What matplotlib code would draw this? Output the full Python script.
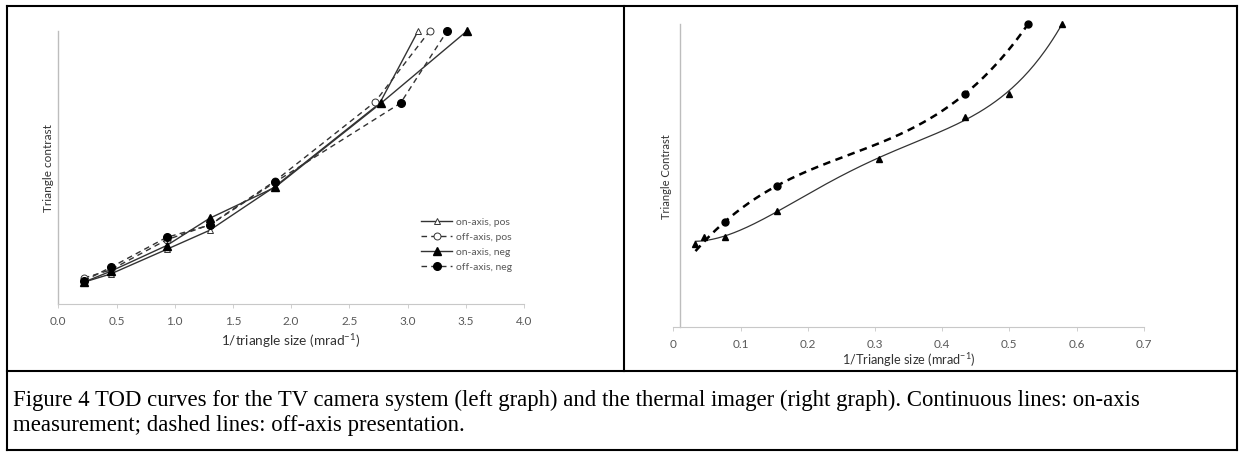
import numpy as np
import matplotlib
matplotlib.use("Agg")
import matplotlib.pyplot as plt
from matplotlib.lines import Line2D

# left graph: TV camera system
left_on_pos_x = [0.22, 0.45, 0.93, 1.30, 1.86, 2.76, 3.09]
left_on_pos_y = [0.08, 0.11, 0.20, 0.27, 0.43, 0.735, 1.00]
left_off_pos_x = [0.22, 0.45, 0.93, 1.30, 1.86, 2.72, 3.19]
left_off_pos_y = [0.095, 0.125, 0.235, 0.29, 0.45, 0.74, 1.00]
left_on_neg_x = [0.22, 0.45, 0.93, 1.30, 1.86, 2.77, 3.51]
left_on_neg_y = [0.08, 0.12, 0.214, 0.314, 0.427, 0.735, 1.00]
left_off_neg_x = [0.22, 0.45, 0.93, 1.30, 1.86, 2.94, 3.34]
left_off_neg_y = [0.085, 0.134, 0.244, 0.289, 0.446, 0.736, 1.00]
left_labels = ["on-axis, pos", "off-axis, pos", "on-axis, neg", "off-axis, neg"]
left_xticks = [0.0, 0.5, 1.0, 1.5, 2.0, 2.5, 3.0, 3.5, 4.0]

# right graph: thermal imager
right_on_x = [0.033, 0.046, 0.077, 0.154, 0.306, 0.434, 0.499, 0.578]
right_on_y = [0.274, 0.298, 0.296, 0.382, 0.554, 0.694, 0.769, 1.00]
right_off_x = [0.077, 0.154, 0.434, 0.528]
right_off_y = [0.348, 0.466, 0.769, 1.00]
right_xticks = [0, 0.1, 0.2, 0.3, 0.4, 0.5, 0.6, 0.7]
right_xticklabels = ["0", "0.1", "0.2", "0.3", "0.4", "0.5", "0.6", "0.7"]

caption = ("Figure 4 TOD curves for the TV camera system (left graph) and the thermal imager (right graph). "
           "Continuous lines: on-axis\nmeasurement; dashed lines: off-axis presentation.")

W, H = 1241, 456
fig = plt.figure(figsize=(W / 100, H / 100), dpi=100)
sans = ["Lato", "DejaVu Sans"]
gray_txt = "#595959"
spine_c = "#c8c8c8"


def px_rect(x0, x1, ytop, ybot):
    return [x0 / W, 1 - ybot / H, (x1 - x0) / W, (ybot - ytop) / H]


def style_axes(ax):
    for s in ["top", "right"]:
        ax.spines[s].set_visible(False)
    ax.spines["left"].set_color("#bdbdbd")
    ax.spines["bottom"].set_color(spine_c)
    ax.spines["left"].set_linewidth(1.0)
    ax.spines["bottom"].set_linewidth(0.8)
    ax.set_yticks([])
    ax.tick_params(axis="x", direction="out", length=3, width=0.6, color=spine_c,
                   labelsize=8.5, labelcolor=gray_txt, pad=5)
    for lab in ax.get_xticklabels():
        lab.set_family(sans)


# ---- left graph
ax1 = fig.add_axes(px_rect(58.3, 524, 32, 305))
lc = "#333333"
ax1.plot(left_on_pos_x, left_on_pos_y, "-", color=lc, lw=1.0, marker="^", ms=5,
         mfc="white", mec=lc, mew=0.7, clip_on=False, label=left_labels[0])
ax1.plot(left_off_pos_x, left_off_pos_y, "--", color=lc, lw=1.0, marker="o", ms=5,
         mfc="white", mec=lc, mew=0.7, clip_on=False, label=left_labels[1], dashes=(4, 3))
ax1.plot(left_on_neg_x, left_on_neg_y, "-", color=lc, lw=1.0, marker="^", ms=5.5,
         mfc="black", mec="black", clip_on=False, label=left_labels[2])
ax1.plot(left_off_neg_x, left_off_neg_y, "--", color=lc, lw=1.0, marker="o", ms=5.5,
         mfc="black", mec="black", clip_on=False, label=left_labels[3], dashes=(4, 3))
ax1.set_xlim(0, 4.0)
ax1.set_ylim(0, 1.0)
ax1.set_xticks(left_xticks)
ax1.set_xticklabels([f"{t:.1f}" for t in left_xticks])
style_axes(ax1)
ax1.set_xlabel(r"1/triangle size (mrad$^{\mathregular{-1}}$)", fontsize=9.8, family=sans,
               color="#333333", labelpad=3)
ax1.set_ylabel("Triangle contrast", fontsize=8.5, family=sans, color="#333333", labelpad=3)
leg = fig.legend(*ax1.get_legend_handles_labels(), loc="upper left",
                 bbox_to_anchor=(421 / W, 1 - 218 / H), frameon=False, borderpad=0,
                 borderaxespad=0, handlelength=3.0, labelspacing=0.55, handletextpad=0.4,
                 prop={"family": sans, "size": 7.5})
for t in leg.get_texts():
    t.set_color(gray_txt)

# ---- right graph
ax2 = fig.add_axes(px_rect(673.3, 1143.7, 25, 328))
on_fit = np.polyfit(right_on_x, right_on_y, 4)
off_fit = np.polyfit(right_off_x, right_off_y, 3)
xs_on = np.linspace(right_on_x[0], right_on_x[-1], 200)
xs_off = np.linspace(right_on_x[0], right_off_x[-1], 200)
ax2.plot(xs_on, np.polyval(on_fit, xs_on), "-", color="#333333", lw=0.9, clip_on=False)
ax2.plot(xs_off, np.polyval(off_fit, xs_off), "--", color="black", lw=1.8, dashes=(3, 2.2), clip_on=False)
ax2.plot(right_on_x, right_on_y, "^", color="black", ms=4.5, ls="none", clip_on=False)
ax2.plot(right_off_x, right_off_y, "o", color="black", ms=5, ls="none", clip_on=False)
ax2.set_xlim(0, 0.7)
ax2.set_ylim(0, 1.0)
ax2.spines["left"].set_position(("data", 0.01))
ax2.set_xticks(right_xticks)
ax2.set_xticklabels(right_xticklabels)
style_axes(ax2)
ax2.set_xlabel(r"1/Triangle size (mrad$^{\mathregular{-1}}$)", fontsize=9.2, family=sans,
               color="#333333", labelpad=1)
ax2.set_ylabel("Triangle Contrast", fontsize=8, family=sans, color="#333333", labelpad=6)

# ---- table borders and caption
bw = 1.5
for (x0, y0, x1, y1) in [(7, 7, 1237, 7), (7, 451, 1237, 451), (7, 7, 7, 451),
                         (1237, 7, 1237, 451), (7, 372, 1237, 372), (624, 7, 624, 372)]:
    fig.add_artist(Line2D([x0 / W, x1 / W], [1 - y0 / H, 1 - y1 / H], color="black", lw=bw))

fig.text(13 / W, 1 - 390 / H, caption, ha="left", va="top", fontsize=16.4,
         family="Liberation Serif", color="black", linespacing=1.22)

fig.savefig("out.png", dpi=100)
